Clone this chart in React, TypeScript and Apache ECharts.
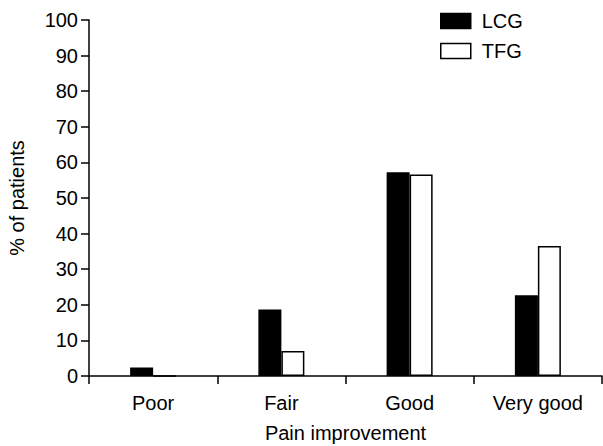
import React, { useEffect, useRef } from "react";
import * as echarts from "echarts";

const categories = ["Poor", "Fair", "Good", "Very good"];
const lcgValues = [2.4, 18.7, 57.2, 22.7];
const tfgValues = [0, 7.0, 56.6, 36.5];
const yTicks = { min: 0, max: 100, interval: 10 };

const FONT = "Liberation Sans, Arial, Helvetica, sans-serif";

export default function App() {
  const ref = useRef<HTMLDivElement>(null);
  useEffect(() => {
    if (!ref.current) return;
    const chart = echarts.init(ref.current, undefined, { renderer: "svg" });
    chart.setOption({
      animation: false,
      backgroundColor: "#ffffff",
      textStyle: { fontFamily: FONT, color: "#000" },
      grid: { left: 89, top: 20, right: 1, bottom: 70, containLabel: false, outerBoundsMode: "none" },
      legend: {
        orient: "vertical",
        left: 440,
        top: 11,
        padding: 0,
        icon: "rect",
        itemWidth: 30,
        itemHeight: 15,
        itemGap: 10,
        textStyle: { fontFamily: FONT, fontSize: 20, color: "#000", padding: [0, 0, 0, 6] },
        data: [
          { name: "LCG", itemStyle: { color: "#000", borderColor: "#000", borderWidth: 1.5 } },
          { name: "TFG", itemStyle: { color: "#fff", borderColor: "#000", borderWidth: 1.5 } },
        ],
      },
      xAxis: {
        type: "category",
        data: categories,
        name: "Pain improvement",
        nameLocation: "middle",
        nameGap: 47,
        nameTextStyle: { fontFamily: FONT, fontSize: 20, color: "#000" },
        axisLine: { lineStyle: { color: "#000", width: 1.5 } },
        axisTick: { show: true, length: 8, inside: false, lineStyle: { color: "#000", width: 1.5 } },
        axisLabel: { fontFamily: FONT, fontSize: 20, color: "#000", margin: 17 },
      },
      yAxis: {
        type: "value",
        min: yTicks.min,
        max: yTicks.max,
        interval: yTicks.interval,
        name: "% of patients",
        nameLocation: "middle",
        nameGap: 62,
        nameRotate: 90,
        nameTextStyle: { fontFamily: FONT, fontSize: 20, color: "#000" },
        axisLine: { show: true, lineStyle: { color: "#000", width: 1.5 } },
        axisTick: { show: true, length: 8, inside: false, lineStyle: { color: "#000", width: 1.5 } },
        axisLabel: { fontFamily: FONT, fontSize: 20, color: "#000", margin: 11 },
        splitLine: { show: false },
      },
      series: [
        {
          name: "LCG",
          type: "bar",
          data: lcgValues,
          barWidth: 23,
          barGap: "0%",
          itemStyle: { color: "#000", borderColor: "#000", borderWidth: 1.5 },
        },
        {
          name: "TFG",
          type: "bar",
          data: tfgValues,
          barWidth: 23,
          barGap: "0%",
          itemStyle: { color: "#fff", borderColor: "#000", borderWidth: 1.5 },
        },
      ],
    });
    return () => chart.dispose();
  }, []);
  return <div ref={ref} style={{ width: 603, height: 446, position: "absolute", left: 0, top: 0 }} />;
}
